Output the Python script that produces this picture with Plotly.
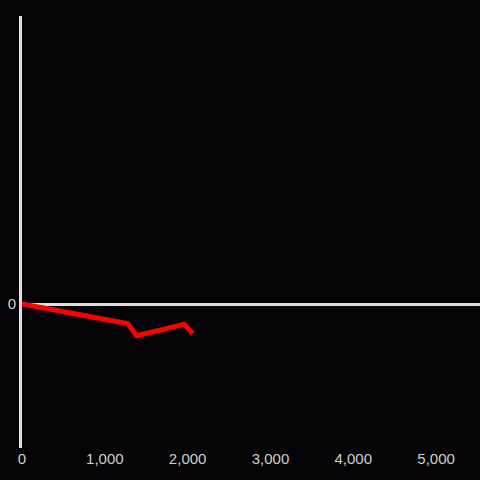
import plotly.graph_objects as go

x_vals = [0, 1275, 1385, 1960, 2060]
y_vals = [0, -13.5, -22, -14, -20.5]

fig = go.Figure(go.Scatter(x=x_vals, y=y_vals, mode="lines",
                           line=dict(color="#ff0000", width=5),
                           hoverinfo="skip"))
fig.update_layout(
    width=480, height=480,
    margin=dict(l=22, r=0, t=16, b=32),
    paper_bgcolor="#050306", plot_bgcolor="#050306",
    showlegend=False,
    font=dict(family="Liberation Sans, Arial, sans-serif", size=15, color="#d0d0d0"),
    xaxis=dict(range=[0, 5530], showgrid=False, zeroline=False,
               showline=False, tickvals=[0, 1000, 2000, 3000, 4000, 5000],
               tickformat=",", ticks=""),
    yaxis=dict(range=[-100, 200], showgrid=False, zeroline=True,
               zerolinecolor="#e0e0e0", zerolinewidth=3,
               showline=True, linecolor="#e0e0e0", linewidth=3,
               tickvals=[0], ticks=""),
)
fig.write_html("out.html", config={"displayModeBar": False},
               post_script="document.body.style.margin='0';document.body.style.background='#050306';")
